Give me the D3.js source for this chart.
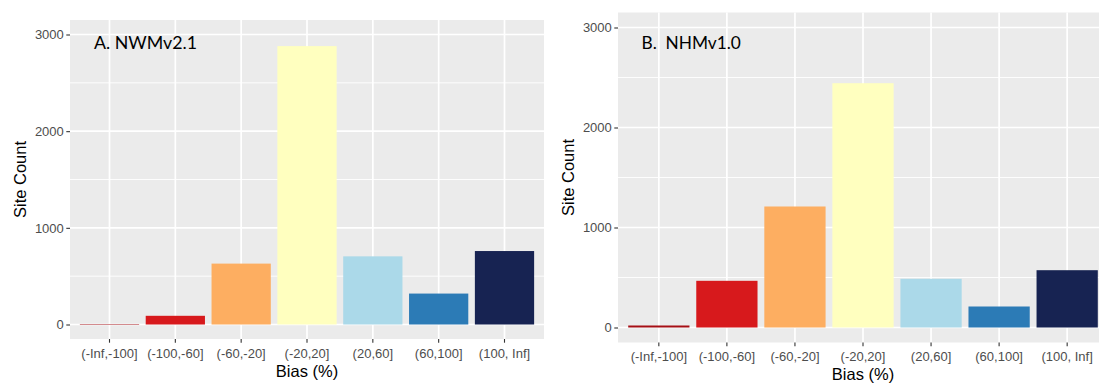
<!DOCTYPE html>
<html>
<head>
<meta charset="utf-8">
<script src="https://cdn.jsdelivr.net/npm/d3@7"></script>
<style>
  html, body { margin: 0; padding: 0; background: #ffffff; }
  svg { display: block; }
</style>
</head>
<body>
<svg id="chart" width="1099" height="384"></svg>
<script>
// Bias classes shared by both panels
const categories = ["(-Inf,-100]", "(-100,-60]", "(-60,-20]", "(-20,20]", "(20,60]", "(60,100]", "(100, Inf]"];
// Site counts per bias class
const nwmCounts = [5, 90, 630, 2880, 705, 320, 760];
const nhmCounts = [20, 467, 1210, 2443, 487, 210, 573];
// Fill colour per bias class
const barColors = ["#a50f15", "#d7191c", "#fdae61", "#ffffbf", "#abd9e9", "#2c7bb6", "#172352"];
// Y axis ticks
const majorTicks = [0, 1000, 2000, 3000];
const minorTicks = [500, 1500, 2500];
const panelTitles = ["A. NWMv2.1", "B.  NHMv1.0"];

const svg = d3.select("#chart");
const tickFont = "'Liberation Sans', Arial, Helvetica, sans-serif";

function drawPanel(opts) {
  const { x0, x1, y0, y1, values, title, titleX, titleY, titleSize, yTitleX, xLabelY, xTitleY } = opts;
  const g = svg.append("g");

  const x = d3.scaleBand().domain(categories).range([x0, x1])
    .paddingInner(0.1).paddingOuter(0.15);
  const y = d3.scaleLinear().domain([-150, 3150]).range([y1, y0]);

  // panel background
  g.append("rect").attr("x", x0).attr("y", y0)
    .attr("width", x1 - x0).attr("height", y1 - y0).attr("fill", "#ebebeb");

  // grid lines
  g.selectAll(".minor").data(minorTicks).join("line")
    .attr("x1", x0).attr("x2", x1)
    .attr("y1", d => y(d)).attr("y2", d => y(d))
    .attr("stroke", "#ffffff").attr("stroke-width", 0.9);
  g.selectAll(".major").data(majorTicks).join("line")
    .attr("x1", x0).attr("x2", x1)
    .attr("y1", d => y(d)).attr("y2", d => y(d))
    .attr("stroke", "#ffffff").attr("stroke-width", 1.7);
  g.selectAll(".vgrid").data(categories).join("line")
    .attr("x1", d => x(d) + x.bandwidth() / 2).attr("x2", d => x(d) + x.bandwidth() / 2)
    .attr("y1", y0).attr("y2", y1)
    .attr("stroke", "#ffffff").attr("stroke-width", 1.7);

  // bars
  g.selectAll(".bar").data(values).join("rect")
    .attr("x", (d, i) => x(categories[i]))
    .attr("width", x.bandwidth())
    .attr("y", d => y(d))
    .attr("height", d => y(0) - y(d))
    .attr("fill", (d, i) => barColors[i]);

  // axes
  const yAxis = d3.axisLeft(y).tickValues(majorTicks).tickFormat(d3.format("d"))
    .tickSize(3.7).tickPadding(2.5);
  const ya = g.append("g").attr("transform", `translate(${x0},0)`).call(yAxis);
  const xAxis = d3.axisBottom(x).tickSize(3.7).tickPadding(3);
  const xa = g.append("g").attr("transform", `translate(0,${y1})`).call(xAxis);
  [ya, xa].forEach(a => {
    a.select(".domain").remove();
    a.selectAll(".tick line").attr("stroke", "#333333").attr("stroke-width", 1.1);
    a.selectAll(".tick text").attr("fill", "#4d4d4d")
      .style("font-family", tickFont).style("font-size", "13px");
  });
  xa.selectAll(".tick text").attr("dy", null).attr("y", xLabelY - y1);

  // axis titles
  g.append("text").attr("x", (x0 + x1) / 2).attr("y", xTitleY)
    .attr("text-anchor", "middle").attr("fill", "#000")
    .style("font-family", tickFont).style("font-size", "16.5px")
    .text("Bias (%)");
  g.append("text")
    .attr("transform", `translate(${yTitleX},${(y0 + y1) / 2}) rotate(-90)`)
    .attr("text-anchor", "middle").attr("fill", "#000")
    .style("font-family", tickFont).style("font-size", "16.5px")
    .text("Site Count");

  // panel label
  g.append("text").attr("x", titleX).attr("y", titleY)
    .attr("fill", "#000").style("white-space", "pre")
    .style("font-family", "Lato, 'Open Sans', sans-serif").style("font-size", titleSize + "px")
    .text(title);
}

drawPanel({ x0: 70, x1: 544, y0: 20, y1: 339, values: nwmCounts, title: panelTitles[0], titleSize: 17.8,
  titleX: 94, titleY: 48.5, yTitleX: 26, xLabelY: 358, xTitleY: 376.5 });
drawPanel({ x0: 618, x1: 1108, y0: 12.5, y1: 342.5, values: nhmCounts, title: panelTitles[1], titleSize: 17.3,
  titleX: 641.5, titleY: 48.5, yTitleX: 574, xLabelY: 361, xTitleY: 379.5 });
</script>
</body>
</html>
